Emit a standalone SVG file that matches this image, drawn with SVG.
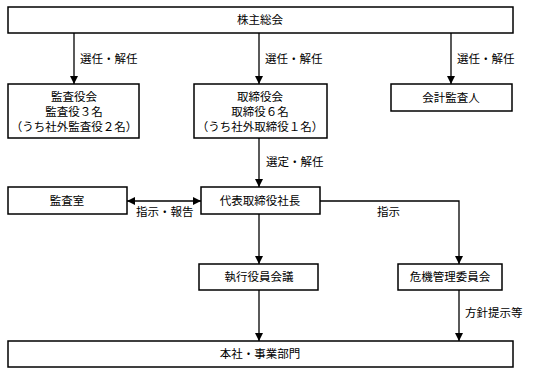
<svg xmlns="http://www.w3.org/2000/svg" width="536" height="374" viewBox="0 0 536 374">
<defs>
<marker id="ah" viewBox="0 0 10 10" refX="10" refY="5" markerWidth="8" markerHeight="8" markerUnits="userSpaceOnUse" orient="auto-start-reverse">
<path d="M0,0 L10,5 L0,10 Z" fill="#000"/>
</marker>
</defs>
<style>
.box{fill:#fff;stroke:#000;stroke-width:1.5}
text{font-family:"Liberation Serif","Noto Sans CJK JP",serif;font-size:11.5px;fill:#000}
.c{text-anchor:middle;dominant-baseline:central}
.l{dominant-baseline:central}
.ln{fill:none;stroke:#000;stroke-width:1.3}
</style>
<rect width="536" height="374" fill="#fff"/>
<g id="connectors">
<line class="ln" x1="74" y1="33" x2="74" y2="84" marker-end="url(#ah)"/>
<line class="ln" x1="259" y1="33" x2="259" y2="84" marker-end="url(#ah)"/>
<line class="ln" x1="451" y1="33" x2="451" y2="84" marker-end="url(#ah)"/>
<line class="ln" x1="259" y1="138" x2="259" y2="187" marker-end="url(#ah)"/>
<line class="ln" x1="127" y1="201" x2="201" y2="201" marker-start="url(#ah)" marker-end="url(#ah)"/>
<polyline class="ln" points="320,201 459,201 459,264" marker-end="url(#ah)"/>
<line class="ln" x1="259" y1="214" x2="259" y2="264" marker-end="url(#ah)"/>
<line class="ln" x1="259" y1="290" x2="259" y2="341" marker-end="url(#ah)"/>
<line class="ln" x1="459" y1="290" x2="459" y2="341" marker-end="url(#ah)"/>
<text class="l" x="80" y="59">選任・解任</text>
<text class="l" x="265" y="59">選任・解任</text>
<text class="l" x="457" y="59">選任・解任</text>
<text class="l" x="266" y="162">選定・解任</text>
<text class="l" x="136" y="212">指示・報告</text>
<text class="l" x="377" y="212">指示</text>
<text class="l" x="465" y="313">方針提示等</text>
</g>
<g id="shareholders">
<rect class="box" x="8" y="7" width="505" height="26"/>
<text class="c" x="260" y="20">株主総会</text>
</g>
<g id="auditors-board">
<rect class="box" x="8" y="84" width="131" height="54"/>
<text class="c" x="74" y="97">監査役会</text>
<text class="c" x="74" y="112">監査役３名</text>
<text class="c" x="74" y="127">（うち社外監査役２名）</text>
</g>
<g id="board">
<rect class="box" x="194" y="84" width="133" height="54"/>
<text class="c" x="260" y="97">取締役会</text>
<text class="c" x="260" y="112">取締役６名</text>
<text class="c" x="260" y="127">（うち社外取締役１名）</text>
</g>
<g id="accounting-auditor">
<rect class="box" x="391" y="84" width="121" height="27"/>
<text class="c" x="451" y="98">会計監査人</text>
</g>
<g id="audit-office">
<rect class="box" x="8" y="187" width="119" height="27"/>
<text class="c" x="67" y="201">監査室</text>
</g>
<g id="president">
<rect class="box" x="201" y="187" width="119" height="27"/>
<text class="c" x="260" y="201">代表取締役社長</text>
</g>
<g id="executive-meeting">
<rect class="box" x="199" y="264" width="119" height="26"/>
<text class="c" x="259" y="277">執行役員会議</text>
</g>
<g id="risk-committee">
<rect class="box" x="398" y="264" width="104" height="26"/>
<text class="c" x="450" y="277">危機管理委員会</text>
</g>
<g id="divisions">
<rect class="box" x="8" y="341" width="505" height="26"/>
<text class="c" x="260" y="354">本社・事業部門</text>
</g>
</svg>
